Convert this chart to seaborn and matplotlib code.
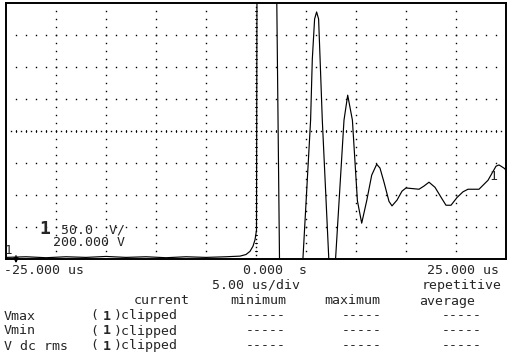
import numpy as np
import matplotlib
matplotlib.use("Agg")
import matplotlib.pyplot as plt
import seaborn as sns

# waveform: time in us, channel 1 in volts
t_us = [-25.0, -23.0, -21.0, -19.0, -17.0, -15.0, -13.0, -11.0, -9.0, -7.0,
        -5.0, -3.0, -1.6, -1.0, -0.6, -0.3, -0.1, 0.05, 0.1,
        2.06, 2.37, 4.55, 5.46, 5.63, 5.86, 6.06, 6.26, 6.41, 6.63,
        7.4, 7.8, 8.8, 9.17, 9.64, 10.14, 10.57, 11.07, 11.57, 12.07,
        12.4, 12.8, 13.3, 13.6, 14.1, 14.6, 15.0, 16.3, 16.8, 17.3,
        17.9, 18.6, 19.0, 19.5, 20.1, 20.7, 21.2, 22.3, 23.2, 24.0,
        24.3, 24.8, 25.0]
volts = [2.5, 3.5, 2.0, 3.5, 2.5, 4.0, 2.5, 3.5, 2.0, 3.5,
         2.5, 3.5, 4.5, 7.0, 12.0, 20.0, 30.0, 45.0, 430.0,
         430.0, -30.0, -40.0, 217.0, 312.0, 375.0, 386.0, 375.0, 312.0, 217.0,
         -40.0, -40.0, 217.0, 256.0, 217.0, 91.0, 56.0, 91.0, 131.0, 148.0,
         142.0, 120.0, 90.0, 83.0, 92.0, 106.0, 111.0, 109.0, 114.0, 120.0,
         112.0, 94.0, 84.0, 84.0, 96.0, 105.0, 109.0, 109.0, 123.0, 145.0,
         147.0, 142.0, 139.0]

# scope settings
t_left, t_right = -25.0, 25.0
volts_per_div = 50.0
v_offset = 200.0

# measurement table
meas_names = ["Vmax", "Vmin", "V dc rms"]
meas_cols = ["current", "minimum", "maximum", "average"]

sns.set_style("white")
plt.rcParams["font.family"] = ["DejaVu Sans Mono"]

W, H = 509, 353
fig = plt.figure(figsize=(W / 100, H / 100), dpi=100)
fig.patch.set_facecolor("white")

# screen area: x 6..506, y 3..259 in pixels
ax = fig.add_axes([6 / W, (H - 259) / H, 500 / W, 256 / H])
v_bottom = v_offset - 4 * volts_per_div
v_top = v_offset + 4 * volts_per_div
ax.set_xlim(t_left, t_right)
ax.set_ylim(v_bottom, v_top)
ax.set_xticks([])
ax.set_yticks([])
for s in ax.spines.values():
    s.set_color("black")
    s.set_linewidth(1.4)

dot = dict(ls="none", marker="s", ms=1.0, mew=0, color="black", clip_on=False)

# graticule: vertical lines, dots every quarter division
tdiv = (t_right - t_left) / 10
vert_t = [t_left + k * tdiv for k in range(1, 10) if k != 5]
vy = np.arange(v_bottom, v_top + 0.1, volts_per_div / 4)[1:-1]
for tx in vert_t:
    ax.plot([tx] * len(vy), vy, **dot)

# horizontal lines, dots every fifth of a division
hx = np.arange(t_left, t_right + 0.01, tdiv / 5)[1:-1]
for k in [1, 2, 3, 5, 6, 7]:
    vv = v_bottom + k * volts_per_div
    ax.plot(hx, [vv] * len(hx), **dot)

# centre lines: dots in between, small ticks on the minor divisions
cx = np.arange(t_left, t_right + 0.01, tdiv / 10)[1:-1]
ax.plot(cx, [v_offset] * len(cx), **dot)
for tx in hx:
    ax.plot([tx, tx], [v_offset - 1.6, v_offset + 1.6], color="black", lw=0.7)
cy = np.arange(v_bottom, v_top + 0.1, volts_per_div / 8)[1:-1]
ax.plot([0.0] * len(cy), cy, **dot)
for vv in vy:
    ax.plot([-0.1, 0.1], [vv, vv], color="black", lw=0.7)

# trace
sns.lineplot(x=t_us, y=volts, ax=ax, color="black", linewidth=0.85,
             estimator=None, sort=False, legend=False)

def txt(x, y, s, size=9.5, weight="normal"):
    fig.text(x / W, 1 - y / H, s, fontsize=size, fontweight=weight,
             va="center", ha="left", family="DejaVu Sans Mono")

# channel label on screen
txt(39, 229, "1", size=13, weight="bold")
txt(61, 230, "50.0  V/")
txt(53, 243, "200.000 V")
txt(5, 250, "1", size=9)
txt(489, 177, "1", size=9.5)
ax.annotate("", xy=(16, H - 266), xytext=(16, H - 253),
            xycoords="figure pixels", textcoords="figure pixels",
            arrowprops=dict(arrowstyle="-|>", lw=1.0, color="black",
                            mutation_scale=7))

# time base
txt(4, 270, "-25.000 us")
txt(243, 270, "0.000  s")
txt(427, 270, "25.000 us")
txt(212, 285, "5.00 us/div")
txt(422, 285, "repetitive")

# measurements
for name, x in zip(meas_cols, [134, 230, 324, 419]):
    txt(x, 301, name)
for name, y in zip(meas_names, [316, 331, 346]):
    txt(4, y, name)
    txt(90, y, "(")
    txt(103, y, "1", weight="bold")
    txt(114, y, ")clipped")
    for x in [246, 342, 442]:
        txt(x, y, "-----")

fig.savefig("out.png", dpi=100, facecolor="white")
